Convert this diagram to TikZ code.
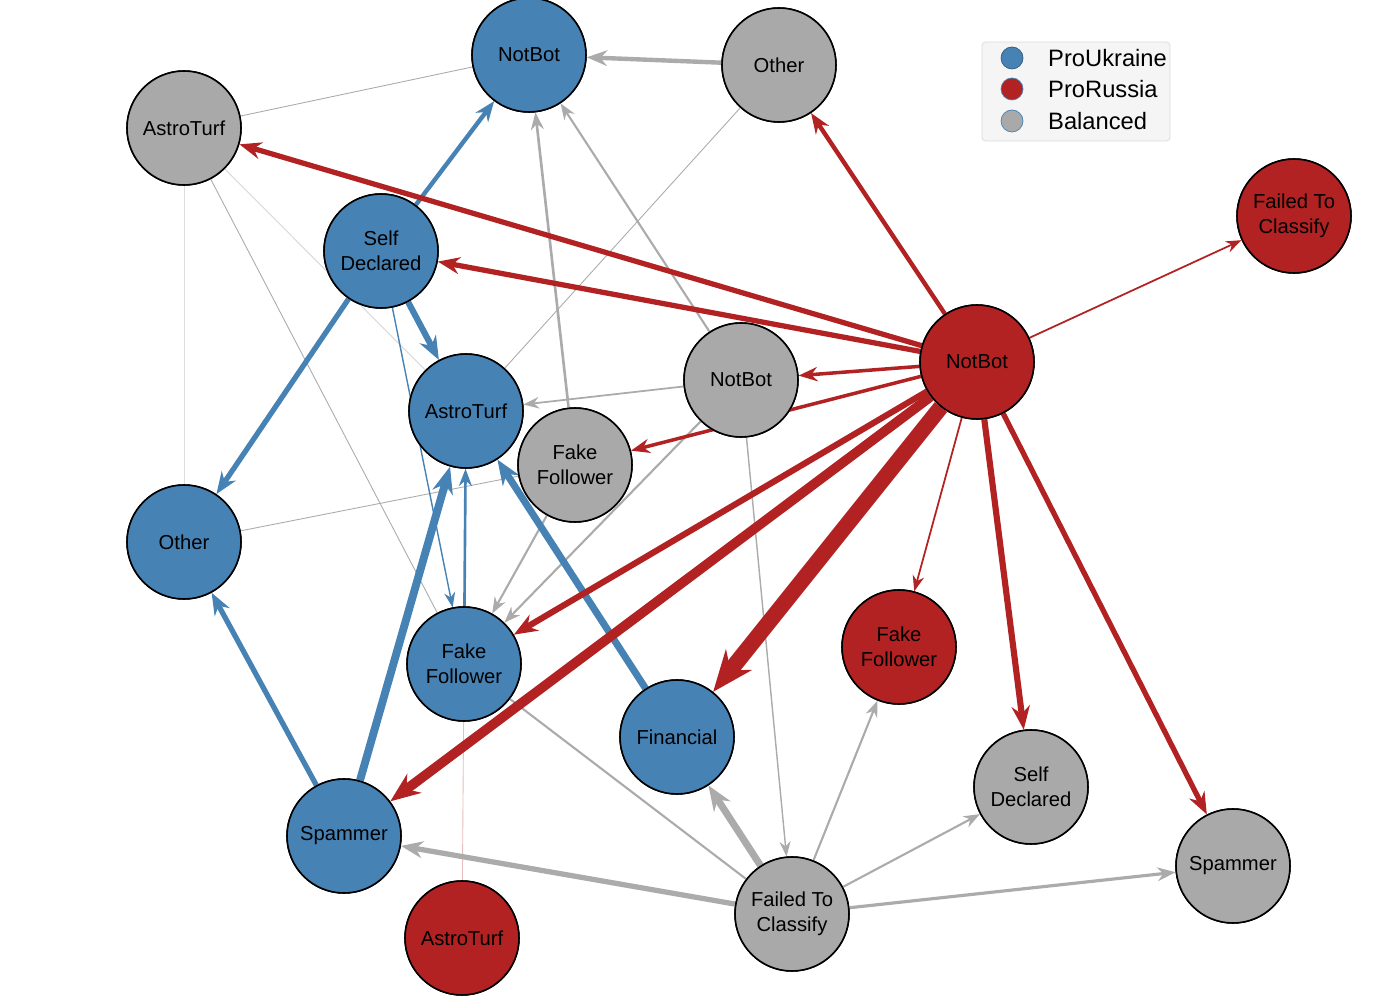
\documentclass[tikz,border=0pt]{standalone}
\usepackage{fontspec}
\setmainfont{Liberation Sans}
\usetikzlibrary{arrows.meta}
\definecolor{pb}{HTML}{4682B4}
\definecolor{pr}{HTML}{B22222}
\definecolor{pg}{HTML}{A9A9A9}
\definecolor{eg}{HTML}{ABABAB}
\begin{document}
\begin{tikzpicture}[x=0.02cm,y=-0.02cm,
  n/.style={circle,draw=black,line width=0.9pt,minimum size=2.28cm,inner sep=0pt,align=center,font=\fontsize{11.5}{14}\selectfont},
  B/.style={n,fill=pb},R/.style={n,fill=pr},G/.style={n,fill=pg},
  e/.style={-{Stealth[length=2.5mm 1.8,width=1.8mm 1.5]}},
  ge/.style={e,draw=eg},be/.style={e,draw=pb},re/.style={e,draw=pr},
  l/.style={draw=eg,line width=0.5pt}]
\useasboundingbox (0,0) rectangle (1400,996);
\node[B] (nbB) at (529,55) {NotBot};
\node[G] (otG) at (779,65) {Other};
\node[G] (atG) at (184,128) {AstroTurf};
\node[B] (sdB) at (381,251) {Self\\Declared};
\node[B] (atB) at (466,411) {AstroTurf};
\node[G] (nbG) at (741,380) {NotBot};
\node[G] (ffG) at (575,465) {Fake\\Follower};
\node[R] (nbR) at (977,362) {NotBot};
\node[R] (fcR) at (1294,216) {Failed To\\Classify};
\node[B] (otB) at (184,542) {Other};
\node[B] (ffB) at (464,664) {Fake\\Follower};
\node[B] (fiB) at (677,737) {Financial};
\node[R] (ffR) at (899,647) {Fake\\Follower};
\node[G] (sdG) at (1031,787) {Self\\Declared};
\node[B] (spB) at (344,836) {Spammer};
\node[G] (spG) at (1233,866) {Spammer};
\node[R] (atR) at (462,938) {AstroTurf};
\node[G] (fcG) at (792,914) {Failed To\\Classify};
\draw[l] (atG) -- (nbB);
\draw[l,draw=eg!40] (atG) -- (otB);
\draw[l] (atG) -- (ffB);
\draw[l,draw=eg!50] (atG) -- (atB);
\draw[l] (otG) -- (atB);
\draw[l] (otB) -- (ffG);
\draw[l,line width=1.2pt] (fcG) -- (ffB);
\draw[draw=pr!30,line width=0.5pt] (atR) -- (ffB);
\draw[ge,line width=2.5pt] (otG) -- (nbB);
\draw[ge,line width=1.2pt] (nbG) -- (nbB);
\draw[ge,line width=1pt] (nbG) -- (atB);
\draw[ge,line width=1.2pt] (nbG) -- (ffB);
\draw[ge,line width=0.8pt] (nbG) -- (fcG);
\draw[ge,line width=1.5pt] (ffG) -- (nbB);
\draw[ge,line width=1.2pt] (ffG) -- (ffB);
\draw[ge,line width=4pt] (fcG) -- (fiB);
\draw[ge,line width=3pt] (fcG) -- (spB);
\draw[ge,line width=1.2pt] (fcG) -- (ffR);
\draw[ge,line width=1.2pt] (fcG) -- (sdG);
\draw[ge,line width=1.8pt] (fcG) -- (spG);
\draw[be,line width=2.5pt] (sdB) -- (nbB);
\draw[be,line width=3.5pt] (sdB) -- (atB);
\draw[be,line width=3pt] (sdB) -- (otB);
\draw[be,line width=0.8pt] (sdB) -- (ffB);
\draw[be,line width=1.5pt] (ffB) -- (atB);
\draw[be,line width=4.5pt] (spB) -- (atB);
\draw[be,line width=3pt] (spB) -- (otB);
\draw[be,line width=4pt] (fiB) -- (atB);
\draw[re,line width=2.5pt] (nbR) -- (otG);
\draw[re,line width=3pt] (nbR) -- (atG);
\draw[re,line width=3pt] (nbR) -- (sdB);
\draw[re,line width=2pt] (nbR) -- (nbG);
\draw[re,line width=2pt] (nbR) -- (ffG);
\draw[re,line width=1pt] (nbR) -- (fcR);
\draw[re,line width=3.5pt] (nbR) -- (ffB);
\draw[re,line width=5.5pt] (nbR) -- (spB);
\draw[re,line width=9pt] (nbR) -- (fiB);
\draw[re,line width=1pt] (nbR) -- (ffR);
\draw[re,line width=3.5pt] (nbR) -- (sdG);
\draw[re,line width=3pt] (nbR) -- (spG);
\foreach \p/\c/\t in {(529,55)/pb/NotBot,(779,65)/pg/Other,(184,128)/pg/AstroTurf,(381,251)/pb/{Self\\Declared},(466,411)/pb/AstroTurf,(741,380)/pg/NotBot,(575,465)/pg/{Fake\\Follower},(977,362)/pr/NotBot,(1294,216)/pr/{Failed To\\Classify},(184,542)/pb/Other,(464,664)/pb/{Fake\\Follower},(677,737)/pb/Financial,(899,647)/pr/{Fake\\Follower},(1031,787)/pg/{Self\\Declared},(344,836)/pb/Spammer,(1233,866)/pg/Spammer,(462,938)/pr/AstroTurf,(792,914)/pg/{Failed To\\Classify}}
  \node[n,fill=\c] at \p {\t};
\node[draw=black!15,fill=black!4,rounded corners=2pt,minimum width=3.76cm,minimum height=1.98cm] (leg) at (1076,91.5) {};
\node[circle,fill=pb,draw=pb!70!black,minimum size=0.44cm,inner sep=0pt] (l1) at (1012,58) {};
\node[circle,fill=pr,draw=pb,minimum size=0.44cm,inner sep=0pt] (l2) at (1012,89) {};
\node[circle,fill=pg,draw=pb,minimum size=0.44cm,inner sep=0pt] (l3) at (1012,121) {};
\node[anchor=west,font=\fontsize{13.5}{16}\selectfont] (t1) at (1042,58) {ProUkraine};
\node[anchor=west,font=\fontsize{13.5}{16}\selectfont] (t2) at (1042,89) {ProRussia};
\node[anchor=west,font=\fontsize{13.5}{16}\selectfont] (t3) at (1042,121) {Balanced};
\end{tikzpicture}
\end{document}
